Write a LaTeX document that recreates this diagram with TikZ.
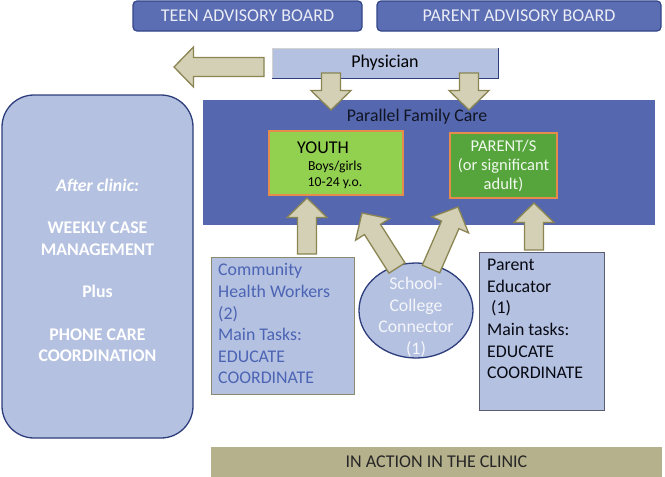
\documentclass[tikz,border=0pt]{standalone}
\usepackage{fontspec}
\setmainfont{Carlito}
\usetikzlibrary{calc,shapes.geometric}

\definecolor{boardfill}{HTML}{5B6DB3}
\definecolor{boardline}{HTML}{34468A}
\definecolor{carefill}{HTML}{5567AE}
\definecolor{lightfill}{HTML}{B4C1E1}
\definecolor{arrowfill}{HTML}{D3D0B5}
\definecolor{arrowline}{HTML}{8A8552}
\definecolor{youthgreen}{HTML}{92D050}
\definecolor{parentgreen}{HTML}{55A53C}
\definecolor{boxorange}{HTML}{E58B4C}
\definecolor{clinicbar}{HTML}{B5B18D}
\definecolor{chwtext}{HTML}{4C64B4}
\definecolor{chwline}{HTML}{8C8A6E}
\definecolor{peline}{HTML}{5A5E70}
\definecolor{darkline}{HTML}{2E3D7C}

\tikzset{
  board/.style={draw=boardline, fill=boardfill, rounded corners=4pt, line width=1.2pt,
    minimum height=30pt, text=white!88!boardfill, font=\fontsize{18}{21}\selectfont},
  staffbox/.style={fill=lightfill, line width=1pt, anchor=north west, inner sep=0pt},
  stafftext/.style={anchor=north west, align=left, inner sep=0pt, font=\fontsize{17.8}{21.6}\selectfont},
  kidbox/.style={draw=boxorange, line width=2.5pt, inner sep=0pt},
  fatarrow/.style={draw=arrowline, fill=arrowfill, line width=1.3pt, line join=miter},
}

% block arrow from #1 to its tip #2
\newcommand{\blockarrow}[2]{%
  \path (#2) coordinate (tip) ($(#2)!19.5pt!(#1)$) coordinate (neck);
  \draw[fatarrow] ($(#1)!9.5pt!90:(tip)$) -- ($(neck)!9.5pt!90:(tip)$)
    -- ($(neck)!20pt!90:(tip)$) -- (tip) -- ($(neck)!20pt!-90:(tip)$)
    -- ($(neck)!9.5pt!-90:(tip)$) -- ($(#1)!9.5pt!-90:(tip)$) -- cycle;
}

\begin{document}
\begin{tikzpicture}[x=1pt,y=-1pt]
	\useasboundingbox (0,0) rectangle (665,477);

	% advisory boards
	\node[board, minimum width=229pt] (teen) at (247.5,16) {TEEN ADVISORY BOARD};
	\node[board, minimum width=284pt] (parentboard) at (519,16) {PARENT ADVISORY BOARD};

	% physician
	\node[fill=lightfill, draw=gray!35, minimum width=226pt, minimum height=30pt,
		font=\fontsize{18}{21}\selectfont] (phys) at (385,63) {Physician};
	\draw[darkline, line width=1.2pt] (phys.north east) -- (phys.south east) -- (phys.south west);

	% after clinic
	\node[draw=darkline, fill=lightfill, line width=1.3pt, rounded corners=32pt,
		minimum width=191pt, minimum height=343pt] (after) at (97.5,266.5) {};
	\node[align=center, text=white, font=\fontsize{17.8}{21.5}\selectfont\bfseries] (aftertxt) at (97.5,270.5)
		{\textit{After clinic:}\\[21pt] WEEKLY CASE\\ MANAGEMENT\\[21pt] Plus\\[21pt] PHONE CARE\\ COORDINATION};

	% parallel family care
	\node[fill=carefill, minimum width=452pt, minimum height=125pt] (pfc) at (429,162.5) {};
	\node[text=black!80!carefill, font=\fontsize{17.8}{21}\selectfont] (pfctitle) at (417,117) {Parallel Family Care};

	\node[kidbox, fill=youthgreen, minimum width=134pt, minimum height=64pt] (youth) at (336,163) {};
	\node[font=\fontsize{18}{21}\selectfont] (youthtitle) at (323,148) {YOUTH};
	\node[align=center, font=\fontsize{13.7}{16}\selectfont] (youthage) at (335,175) {Boys/girls\\10-24 y.o.};

	\node[kidbox, fill=parentgreen, minimum width=107pt, minimum height=65pt, align=center,
		text=white!92!parentgreen, font=\fontsize{16.5}{19}\selectfont] (parents) at (503.5,165.5)
		{PARENT/S\\(or significant\\adult)};

	% staff
	\node[staffbox, draw=chwline, minimum width=143pt, minimum height=137pt] (chw) at (211,257) {};
	\node[stafftext, text=chwtext] (chwtxt) at (218,263.5)
		{Community\\Health Workers\\(2)\\Main Tasks:\\EDUCATE\\COORDINATE};

	\node[staffbox, draw=peline, minimum width=125pt, minimum height=158pt] (pe) at (479,252) {};
	\node[stafftext, text=black!85!darkline] (petxt) at (487,259)
		{Parent\\Educator\\\hspace{4pt}(1)\\Main tasks:\\EDUCATE\\COORDINATE};

	\node[ellipse, draw=darkline, fill=lightfill, line width=1.3pt, inner sep=0pt,
		minimum width=114pt, minimum height=95pt] (conn) at (416,310.5) {};
	\node[align=center, text=white!85!lightfill, font=\fontsize{17.8}{21.5}\selectfont] (conntxt) at (416,317)
		{School-\\College\\Connector\\(1)};

	% clinic bar
	\node[fill=clinicbar, minimum width=451pt, minimum height=30pt,
		text=black!85, font=\fontsize{18}{21}\selectfont] (clinic) at (436.5,462) {IN ACTION IN THE CLINIC};

	% block arrows
	\coordinate (toafter0) at (264,67);  \coordinate (toafter1) at (174,67);
	\coordinate (toyouth0) at (331,73);  \coordinate (toyouth1) at (331,110);
	\coordinate (topar0) at (469,73);    \coordinate (topar1) at (469,110);
	\coordinate (chwup0) at (307,254);   \coordinate (chwup1) at (307,198);
	\coordinate (connyo0) at (397,268);  \coordinate (connyo1) at (362,213);
	\coordinate (connpa0) at (431,269);  \coordinate (connpa1) at (458,207);
	\coordinate (peup0) at (534,250);    \coordinate (peup1) at (534,203);
	\foreach \a in {toafter,toyouth,topar,chwup,connyo,connpa,peup}{
		\blockarrow{\a0}{\a1}
	}
\end{tikzpicture}
\end{document}
